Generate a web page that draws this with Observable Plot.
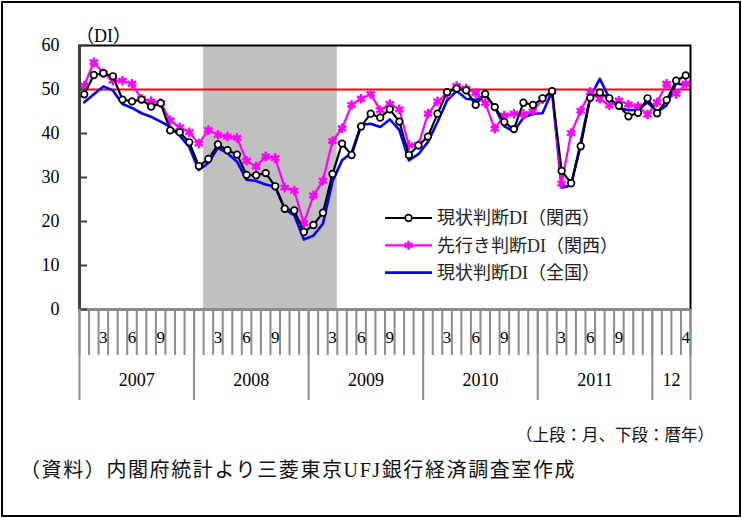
<!DOCTYPE html>
<html><head><meta charset="utf-8">
<script src="https://cdn.jsdelivr.net/npm/d3@7"></script>
<script src="https://cdn.jsdelivr.net/npm/@observablehq/plot@0.6"></script>
<style>
body{margin:0;background:#fff;}
#wrap{position:relative;width:742px;height:518px;overflow:hidden;font-family:"Liberation Serif","Noto Sans CJK JP",serif;background:#fff;}
#border{position:absolute;left:1px;top:1px;width:740px;height:516px;box-sizing:border-box;border:2px solid #000;}
#chart{position:absolute;left:0;top:0;}
.note{position:absolute;white-space:nowrap;color:#111;line-height:1;}
#n1{right:28px;top:428px;font-size:16.5px;}
#n2{left:20px;top:460px;font-size:20px;letter-spacing:1.6px;}
</style></head><body>
<div id="wrap"><div id="chart"></div><div id="border"></div>
<div class="note" id="n1">（上段：月、下段：暦年）</div>
<div class="note" id="n2">（資料）内閣府統計より三菱東京UFJ銀行経済調査室作成</div>
</div>
<script>
// Monthly data, Jan 2007 – Apr 2012
const startYear = 2007;
const kansaiCurrent = [48.9,53.3,53.7,53.0,47.7,47.3,47.7,46.1,46.9,40.7,40.3,38.0,
  32.6,34.2,37.5,36.2,35.2,30.6,30.5,31.0,28.0,22.9,22.5,17.6,
  19.2,22.0,30.8,37.7,35.1,41.6,44.5,43.6,45.5,42.7,35.1,37.3,
  39.3,44.5,49.4,50.2,49.8,46.5,49.0,46.0,42.6,41.0,47.0,46.5,
  48.0,49.6,31.5,28.7,37.1,48.1,49.3,48.0,46.3,43.9,44.7,48.0,
  44.6,47.6,52.0,53.2];
const kansaiOutlook = [50.9,56.2,53.7,52.0,52.0,51.3,47.9,47.3,46.9,43.0,41.4,40.3,
  37.7,40.8,39.7,39.3,39.0,33.8,32.5,34.8,34.4,27.7,27.0,19.6,
  25.9,29.3,38.3,41.2,46.5,47.9,49.0,45.3,46.7,45.5,37.3,37.4,
  44.5,47.3,49.0,50.8,50.2,49.2,46.9,41.1,44.1,44.5,44.4,45.1,
  47.8,49.5,28.6,40.1,45.2,49.4,47.9,46.4,47.5,46.6,46.2,44.3,
  47.1,51.3,49.0,51.3];
const nationalCurrent = [47.1,48.9,50.7,49.8,46.7,45.8,44.6,43.8,42.7,41.5,39.5,36.9,
  31.7,33.3,36.8,35.5,33.6,29.5,29.2,28.4,27.9,22.8,21.4,15.9,
  16.8,19.5,29.1,33.9,35.6,42.0,42.2,41.5,43.2,40.8,33.9,35.3,
  38.1,42.6,47.5,49.7,47.9,47.6,48.8,46.0,41.6,40.5,43.6,44.5,
  44.6,49.6,27.7,28.2,38.0,48.3,52.4,48.0,45.8,45.3,45.4,47.1,
  44.9,46.4,51.4,50.9];
const seriesNames = ["現状判断DI（関西）","先行き判断DI（関西）","現状判断DI（全国）"];
const seriesColors = ["#000000","#ff00ff","#0000ff"];
const yTicks = [0,10,20,30,40,50,60];
const monthLabelMonths = [3,6,9];   // labelled months in complete years
const yearLabels = ["2007","2008","2009","2010","2011","12"];
const recessionStart = [2008,2];   // shaded period (year, month)
const recessionEnd = [2009,3];
const referenceLevel = 50;

const n = kansaiCurrent.length;
const mIndex = (y,m) => (y-startYear)*12 + (m-1);
const toRows = vals => vals.map((v,i)=>({x:i+0.5, v}));
const cur = toRows(kansaiCurrent), out = toRows(kansaiOutlook), nat = toRows(nationalCurrent);

// tick positions
const monthBounds = d3.range(0, n+1);
const yearBounds = d3.range(0, n, 12).concat([n]);
const fullYearsEnd = Math.floor(n/12)*12;
const monthLabelPos = [], monthLabelText = [];
for (let i=0;i<n;i++){
  const m = i%12+1;
  if ((i < fullYearsEnd && monthLabelMonths.includes(m)) || i===n-1){ monthLabelPos.push(i+0.5); monthLabelText.push(String(m)); }
}
const yearCenters = yearBounds.slice(0,-1).map((b,k)=> (b + yearBounds[k+1])/2);

const W = 742, H = 410, bottomY = 309;
const font = '"Liberation Serif","Noto Sans CJK JP",serif';
const grey = "#8c8c8c";
const plot = Plot.plot({
  width: W, height: H,
  marginLeft: 79, marginRight: 52, marginTop: 45, marginBottom: H-bottomY,
  x: {domain:[0,n], axis:null},
  y: {domain:[0,60], axis:null},
  style: {fontFamily: font, fontSize: "18px", color:"#000", background:"#fff", overflow:"visible"},
  marks: [
    Plot.rect([{}], {x1: mIndex(...recessionStart), x2: mIndex(...recessionEnd)+1, y1: 0, y2: 60, fill:"#c0c0c0"}),
    Plot.ruleY([referenceLevel], {stroke:"#ff0000", strokeWidth:2.2}),
    Plot.line(nat, {x:"x", y:"v", stroke:seriesColors[2], strokeWidth:2.6}),
    Plot.line(out, {x:"x", y:"v", stroke:seriesColors[1], strokeWidth:2.2}),
    Plot.dot(out, {x:"x", y:"v", symbol:"asterisk", stroke:seriesColors[1], r:4.5, strokeWidth:2.4}),
    Plot.line(cur, {x:"x", y:"v", stroke:seriesColors[0], strokeWidth:2.2}),
    Plot.dot(cur, {x:"x", y:"v", fill:"#fff", stroke:seriesColors[0], r:3.3, strokeWidth:1.7}),
    Plot.frame({stroke:"#000", strokeWidth:2}),
    Plot.ruleX([0], {stroke:"#404040", strokeWidth:3}),
    Plot.ruleY([0], {stroke:grey, strokeWidth:3}),
    Plot.axisY(yTicks, {anchor:"left", tickSize:-8, tickFormat:()=>"", stroke:"#404040", strokeWidth:2, label:null}),
    Plot.axisY(yTicks, {anchor:"left", tickSize:0, tickPadding:20, fontSize:18, label:null}),
    Plot.axisX(monthBounds, {anchor:"bottom", tickSize:46, tickFormat:()=>"", stroke:grey, strokeWidth:2, label:null}),
    Plot.axisX(yearBounds, {anchor:"bottom", tickSize:91, tickFormat:()=>"", stroke:grey, strokeWidth:2, label:null}),
    Plot.axisX(monthLabelPos, {anchor:"bottom", tickSize:0, tickPadding:21, fontSize:17, label:null,
      tickFormat:(d)=> monthLabelText[monthLabelPos.indexOf(d)]}),
    Plot.axisX(yearCenters, {anchor:"bottom", tickSize:0, tickPadding:64, fontSize:18, label:null,
      tickFormat:(d)=> yearLabels[yearCenters.indexOf(d)]})
  ]
});
document.getElementById("chart").appendChild(plot);

// unit label and legend
const svg = d3.select(plot);
svg.append("text").attr("x",76).attr("y",36).attr("dy","0.35em").attr("text-anchor","start")
  .attr("font-size",18).attr("fill","#000").text("（DI）");
const leg = svg.append("g").attr("font-size",18).attr("fill","#222").attr("text-anchor","start");
const r = 4.5, a = r*Math.cos(Math.PI/6), b = r*Math.sin(Math.PI/6);
seriesNames.forEach((name,k)=>{
  const y = 218 + k*27.3;
  leg.append("line").attr("x1",385).attr("x2",432).attr("y1",y).attr("y2",y)
    .attr("stroke",seriesColors[k]).attr("stroke-width", k===2?2.6:2.2);
  if (k===0) leg.append("circle").attr("cx",408.5).attr("cy",y).attr("r",3.3).attr("fill","#fff").attr("stroke","#000").attr("stroke-width",1.7);
  if (k===1) leg.append("path").attr("transform",`translate(408.5,${y})`)
    .attr("d", `M0,${-r}V${r}M${-a},${-b}L${a},${b}M${-a},${b}L${a},${-b}`)
    .attr("stroke",seriesColors[1]).attr("stroke-width",2.4).attr("fill","none");
  leg.append("text").attr("x",437).attr("y",y).attr("dy","0.35em").text(name);
});
</script>
</body></html>
